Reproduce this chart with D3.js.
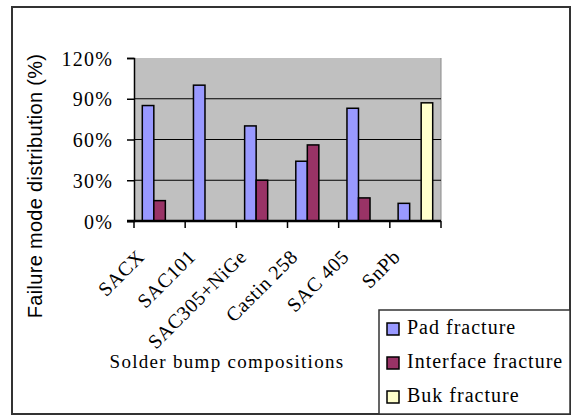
<!DOCTYPE html>
<html lang="en">
<head>
<meta charset="UTF-8">
<title>Failure mode distribution</title>
<style>
	body { margin: 0; background: #fff; }
	svg text { fill: #000; }
	.serif { font-family: "Liberation Serif", "Times New Roman", serif; }
</style>
</head>
<body>
<svg id="chart" width="574" height="417"></svg>
<script src="https://d3js.org/d3.v7.min.js"></script>
<script>
	var categories = ["SACX", "SAC101", "SAC305+NiGe", "Castin 258", "SAC 405", "SnPb"];
	var seriesNames = ["Pad fracture", "Interface fracture", "Buk fracture"];
	var padValues = [85, 100, 70, 44, 83, 13];
	var interfaceValues = [15, 0, 30, 56, 17, 0];
	var bulkValues = [0, 0, 0, 0, 0, 87];
	var yTicks = [0, 30, 60, 90, 120];
	var colors = ["#9999ff", "#993366", "#ffffcc"];

	var svg = d3.select("#chart");

	var plotLeft = 134, plotRight = 441, plotTop = 58, plotBottom = 221;

	// outer frame
	svg.append("rect")
		.attr("x", 12).attr("y", 7)
		.attr("width", 558).attr("height", 407)
		.attr("fill", "#fff")
		.attr("stroke", "#333")
		.attr("stroke-width", 2);

	var x = d3.scaleBand().domain(categories).range([plotLeft, plotRight]);
	var xi = d3.scaleBand().domain(seriesNames).range([0, x.bandwidth()]).paddingOuter(0.72);
	var y = d3.scaleLinear().domain([0, 120]).range([plotBottom, plotTop]);

	// plot area
	svg.append("rect")
		.attr("x", plotLeft).attr("y", plotTop)
		.attr("width", plotRight - plotLeft).attr("height", plotBottom - plotTop)
		.attr("fill", "#c0c0c0");
	svg.append("line")
		.attr("x1", plotRight).attr("x2", plotRight).attr("y1", plotTop).attr("y2", plotBottom)
		.attr("stroke", "#8a8a8a");

	// gridlines
	svg.selectAll(".grid")
		.data(yTicks.filter(function(d) { return d > 0 && d < 120; }))
		.enter().append("line")
		.attr("x1", plotLeft).attr("x2", plotRight)
		.attr("y1", function(d) { return y(d); })
		.attr("y2", function(d) { return y(d); })
		.attr("stroke", "#000").attr("stroke-width", 1);

	// bars
	var table = categories.map(function(c, i) {
		return { cat: c, vals: [padValues[i], interfaceValues[i], bulkValues[i]] };
	});
	var group = svg.selectAll(".grp")
		.data(table)
		.enter().append("g")
		.attr("transform", function(d) { return "translate(" + x(d.cat) + ",0)"; });
	group.selectAll("rect")
		.data(function(d) {
			return d.vals.map(function(v, j) { return { name: seriesNames[j], v: v, j: j }; })
				.filter(function(e) { return e.v > 0; });
		})
		.enter().append("rect")
		.attr("x", function(d) { return xi(d.name); })
		.attr("width", xi.bandwidth())
		.attr("y", function(d) { return y(d.v); })
		.attr("height", function(d) { return y(0) - y(d.v); })
		.attr("fill", function(d) { return colors[d.j]; })
		.attr("stroke", "#000")
		.attr("stroke-width", 1.5);

	// y axis
	var yAxis = svg.append("g")
		.attr("transform", "translate(" + plotLeft + ",0)")
		.call(d3.axisLeft(y).tickValues(yTicks).tickSize(7).tickPadding(14)
			.tickFormat(function(d) { return d + "%"; }));
	yAxis.select(".domain").attr("stroke", "#000").attr("stroke-width", 1.5);
	yAxis.selectAll(".tick line").attr("stroke", "#000").attr("stroke-width", 1.5);
	yAxis.selectAll("text")
		.attr("class", "serif")
		.style("font-size", "20px")
		.style("letter-spacing", "1.2px")
		.attr("dy", "0.35em");

	// x axis
	var xAxis = svg.append("g")
		.attr("transform", "translate(0," + plotBottom + ")");
	xAxis.append("line")
		.attr("x1", plotLeft - 7).attr("x2", plotRight)
		.attr("stroke", "#000").attr("stroke-width", 2.5);
	xAxis.selectAll(".xt")
		.data(categories.map(function(c) { return x(c); }).concat([plotRight]))
		.enter().append("line")
		.attr("x1", function(d) { return d; }).attr("x2", function(d) { return d; })
		.attr("y1", 0).attr("y2", 7)
		.attr("stroke", "#000").attr("stroke-width", 1.5);

	svg.selectAll(".xlabel")
		.data(categories)
		.enter().append("text")
		.attr("class", "serif")
		.attr("text-anchor", "end")
		.style("font-size", "20px")
		.style("letter-spacing", "0.6px")
		.attr("transform", function(d) {
			return "translate(" + (x(d) + x.bandwidth() / 2 - 14) + ",258) rotate(-45)";
		})
		.text(function(d) { return d; });

	// axis titles
	svg.append("text")
		.attr("class", "serif")
		.attr("x", 227).attr("y", 368)
		.attr("text-anchor", "middle")
		.style("font-size", "19px")
		.style("letter-spacing", "1.3px")
		.text("Solder bump compositions");

	svg.append("text")
		.attr("transform", "translate(42,186) rotate(-90)")
		.attr("text-anchor", "middle")
		.style("font-family", "'Liberation Sans', Arial, sans-serif")
		.style("font-size", "20px")
		.style("letter-spacing", "0.3px")
		.text("Failure mode distribution (%)");

	// legend
	svg.append("rect")
		.attr("x", 379).attr("y", 310)
		.attr("width", 191).attr("height", 104)
		.attr("fill", "#fff")
		.attr("stroke", "#333").attr("stroke-width", 1.5);
	var leg = svg.selectAll(".leg")
		.data(seriesNames)
		.enter().append("g")
		.attr("transform", function(d, i) { return "translate(387," + (329 + i * 34) + ")"; });
	leg.append("rect")
		.attr("x", 0).attr("y", -6)
		.attr("width", 12).attr("height", 12)
		.attr("fill", function(d, i) { return colors[i]; })
		.attr("stroke", "#000").attr("stroke-width", 1.5);
	leg.append("text")
		.attr("class", "serif")
		.attr("x", 20).attr("y", 5)
		.style("font-size", "20px")
		.style("letter-spacing", "1px")
		.text(function(d) { return d; });
</script>
</body>
</html>
